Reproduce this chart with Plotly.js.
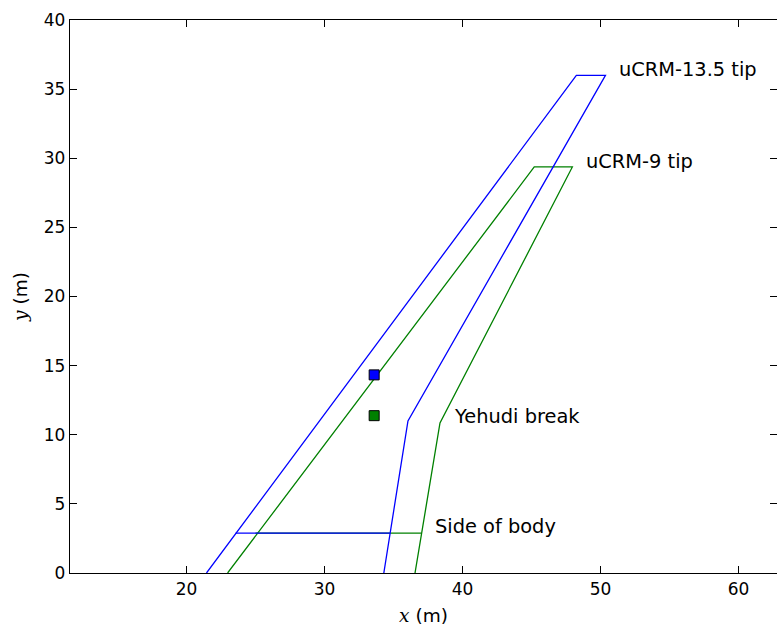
<!DOCTYPE html>
<html><head><meta charset="utf-8">
<script src="https://cdn.plot.ly/plotly-3.0.1.min.js"></script>
<style>html,body{margin:0;padding:0;background:#fff}</style>
</head><body><div id="chart" style="width:777px;height:628px"></div>
<script>
// uCRM-13.5 planform (leading edge root -> tip LE -> tip TE -> Yehudi break -> root TE)
const blueX = [21.45, 48.25, 50.36, 36.05, 34.3];
const blueY = [0, 36.0, 36.0, 11.0, 0];
const blueSobX = [23.56, 34.74];
const blueSobY = [2.89, 2.89];
// uCRM-9 planform
const greenX = [22.98, 45.2, 47.96, 38.37, 36.56];
const greenY = [0, 29.37, 29.37, 10.85, 0];
const greenSobX = [25.0, 37.0];
const greenSobY = [2.89, 2.89];
// reference points
const blueMarkX = [33.6], blueMarkY = [14.33];
const greenMarkX = [33.6], greenMarkY = [11.38];
// labels
const labelText = ["uCRM-13.5 tip", "uCRM-9 tip", "Yehudi break", "Side of body"];
const labelX = [51.2, 48.8, 39.25, 37.85];
const labelY = [36.4, 29.8, 11.3, 3.35];

const BLUE = "#0000ff", GREEN = "#008000";
const ln = (x, y, c) => ({x, y, type: "scatter", mode: "lines", line: {color: c, width: 1.3}, hoverinfo: "skip", showlegend: false});
const mk = (x, y, c) => ({x, y, type: "scatter", mode: "markers", marker: {symbol: "square", size: 10, color: c, line: {color: "#000", width: 1}}, showlegend: false});

const data = [
  ln(greenX, greenY, GREEN), ln(greenSobX, greenSobY, GREEN),
  ln(blueX, blueY, BLUE), ln(blueSobX, blueSobY, BLUE),
  mk(blueMarkX, blueMarkY, BLUE), mk(greenMarkX, greenMarkY, GREEN)
];

const font = {family: "DejaVu Sans", size: 17, color: "#000"};
const titleFont = {family: "DejaVu Sans", size: 18.5, color: "#000"};
const annFont = {family: "DejaVu Sans", size: 19.4, color: "#000"};
const annotations = labelText.map((t, i) => ({
  x: labelX[i], y: labelY[i], xref: "x", yref: "y", text: t, showarrow: false,
  xanchor: "left", yanchor: "middle", font: annFont
}));

const axisCommon = {
  showgrid: false, zeroline: false, showline: true, linecolor: "#000", linewidth: 1.3,
  mirror: "ticks", ticks: "inside", ticklen: 7, tickwidth: 1, tickcolor: "#000",
  tickfont: font
};

const layout = {
  width: 777, height: 628,
  margin: {l: 70, r: 0, t: 20, b: 55},
  paper_bgcolor: "#fff", plot_bgcolor: "#fff",
  font: font,
  xaxis: Object.assign({}, axisCommon, {range: [11.56, 62.79], tickvals: [20, 30, 40, 50, 60],
    title: {text: "<i style='font-family:DejaVu Serif'>x</i> (m)", font: titleFont, standoff: 11}}),
  yaxis: Object.assign({}, axisCommon, {range: [0, 40], tickvals: [0, 5, 10, 15, 20, 25, 30, 35, 40],
    title: {text: "<i style='font-family:DejaVu Serif'>y</i> (m)", font: titleFont, standoff: 11}}),
  annotations: annotations
};

Plotly.newPlot("chart", data, layout, {displayModeBar: false, staticPlot: true});
</script></body></html>
